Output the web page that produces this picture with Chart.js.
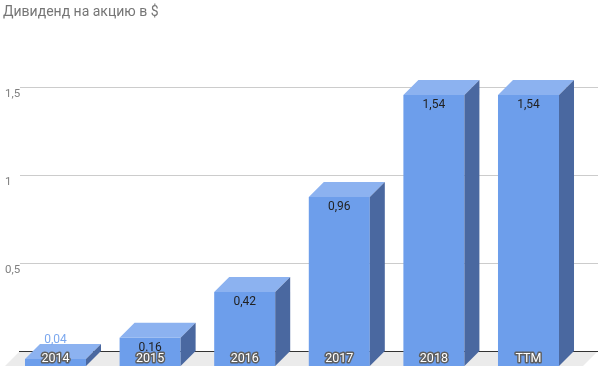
<!DOCTYPE html>
<html>
<head>
<meta charset="utf-8">
<script src="https://cdn.jsdelivr.net/npm/chart.js@4.4.1/dist/chart.umd.min.js"></script>
<style>
  html, body { margin: 0; padding: 0; background: #fff; }
  #wrap { width: 598px; height: 369px; }
</style>
</head>
<body>
<div id="wrap"><canvas id="chart" width="598" height="369"></canvas></div>
<script>
// Chart data
const categories = ['2014', '2015', '2016', '2017', '2018', 'TTM'];
const dividendValues = [0.04, 0.16, 0.42, 0.96, 1.54, 1.54];
const valueLabels = ['0,04', '0.16', '0,42', '0,96', '1,54', '1,54'];
const yTickValues = [0.5, 1, 1.5];
const yTickLabels = ['0,5', '1', '1,5'];
const chartTitle = 'Дивиденд на акцию в $';

// 3D look
const DEPTH = 15;
const FLOOR_LEFT = 5;
const FLOOR_RIGHT = 583;
const FRONT_COLOR = '#6d9eeb';
const TOP_COLOR = '#8cb2f0';
const SIDE_COLOR = '#4a68a0';

const bars3d = {
    id: 'bars3d',
    beforeDatasetsDraw(chart) {
        const ctx = chart.ctx;
        const y = chart.scales.y;
        const zero = y.getPixelForValue(0);

        ctx.save();
        // floor
        ctx.fillStyle = '#ebebeb';
        ctx.beginPath();
        ctx.moveTo(FLOOR_LEFT + DEPTH, zero - DEPTH);
        ctx.lineTo(FLOOR_RIGHT + DEPTH, zero - DEPTH);
        ctx.lineTo(FLOOR_RIGHT, zero);
        ctx.lineTo(FLOOR_LEFT, zero);
        ctx.closePath();
        ctx.fill();

        // gridlines on the back wall + tick labels
        ctx.lineWidth = 1;
        ctx.font = '11.5px Roboto';
        ctx.textAlign = 'left';
        ctx.textBaseline = 'middle';
        yTickValues.forEach(function(v, i) {
            const py = Math.round(y.getPixelForValue(v) - DEPTH) + 0.5;
            ctx.strokeStyle = '#cccccc';
            ctx.beginPath();
            ctx.moveTo(FLOOR_LEFT + DEPTH, py);
            ctx.lineTo(FLOOR_RIGHT + DEPTH, py);
            ctx.stroke();
            ctx.fillStyle = '#7f7f7f';
            ctx.fillText(yTickLabels[i], 5, py + 7);
        });

        // baseline
        const by = Math.round(zero - DEPTH) + 0.5;
        ctx.strokeStyle = '#333333';
        ctx.beginPath();
        ctx.moveTo(FLOOR_LEFT + DEPTH - 1, by);
        ctx.lineTo(FLOOR_RIGHT + DEPTH, by);
        ctx.stroke();

        // title
        ctx.font = '14px Roboto';
        ctx.fillStyle = '#757575';
        ctx.textBaseline = 'alphabetic';
        ctx.fillText(chartTitle, 3, 15.5);
        ctx.restore();
    },
    afterDatasetsDraw(chart) {
        const ctx = chart.ctx;
        const meta = chart.getDatasetMeta(0);
        ctx.save();
        meta.data.forEach(function(bar, i) {
            const left = bar.x - bar.width / 2;
            const right = bar.x + bar.width / 2;
            const top = bar.y;
            const base = bar.base;

            // top face
            ctx.fillStyle = TOP_COLOR;
            ctx.beginPath();
            ctx.moveTo(left, top);
            ctx.lineTo(left + DEPTH, top - DEPTH);
            ctx.lineTo(right + DEPTH, top - DEPTH);
            ctx.lineTo(right, top);
            ctx.closePath();
            ctx.fill();

            // side face
            ctx.fillStyle = SIDE_COLOR;
            ctx.beginPath();
            ctx.moveTo(right, top);
            ctx.lineTo(right + DEPTH, top - DEPTH);
            ctx.lineTo(right + DEPTH, base - DEPTH);
            ctx.lineTo(right, base);
            ctx.closePath();
            ctx.fill();

            // value label
            ctx.font = '12px Roboto';
            ctx.textAlign = 'center';
            ctx.textBaseline = 'middle';
            if (base - top >= 20) {
                ctx.fillStyle = '#222222';
                ctx.fillText(valueLabels[i], bar.x, top + 10);
            } else {
                ctx.fillStyle = '#7aa7ee';
                ctx.fillText(valueLabels[i], bar.x, top - DEPTH - 4);
            }

            // category label, white with grey outline
            ctx.font = '12.5px Roboto';
            ctx.lineJoin = 'round';
            ctx.lineWidth = 3;
            ctx.strokeStyle = '#5f5f5f';
            ctx.strokeText(chart.data.labels[i], bar.x, base - 7);
            ctx.fillStyle = '#ffffff';
            ctx.fillText(chart.data.labels[i], bar.x, base - 7);
        });
        ctx.restore();
    }
};

new Chart(document.getElementById('chart'), {
    type: 'bar',
    data: {
        labels: categories,
        datasets: [{
            label: chartTitle,
            data: dividendValues,
            backgroundColor: FRONT_COLOR,
            borderWidth: 0,
            barPercentage: 0.645,
            categoryPercentage: 1
        }]
    },
    options: {
        responsive: false,
        animation: false,
        devicePixelRatio: 1,
        layout: {
            padding: { left: 8.2, right: 22.2, top: 14, bottom: 3 }
        },
        scales: {
            x: { display: false },
            y: { display: false, min: 0, max: 2 }
        },
        plugins: {
            legend: { display: false },
            title: { display: false },
            tooltip: { enabled: false }
        }
    },
    plugins: [bars3d]
});
</script>
</body>
</html>
